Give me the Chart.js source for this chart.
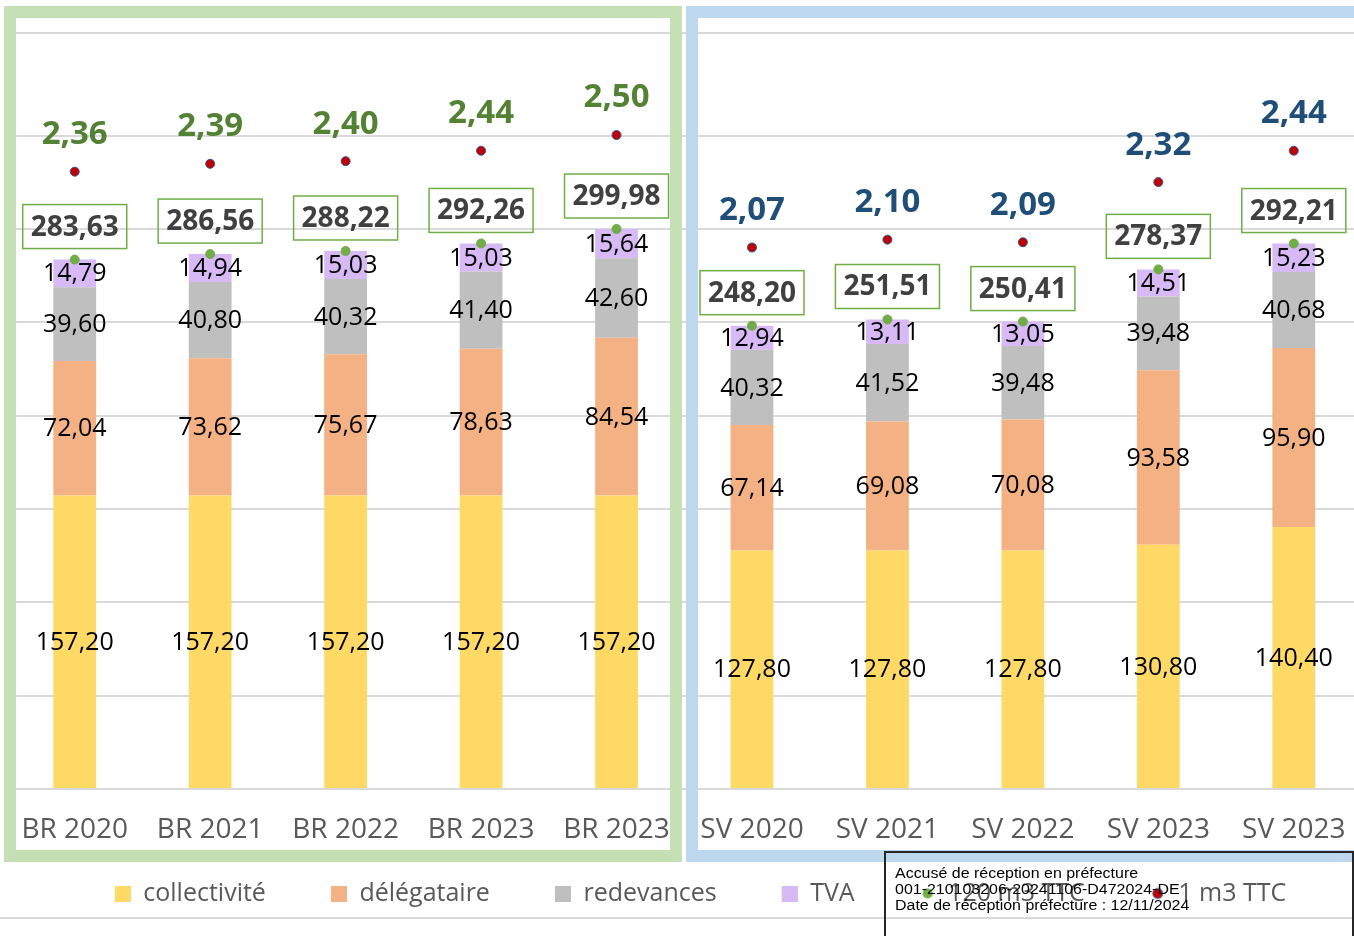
<!DOCTYPE html>
<html lang="fr">
<head>
<meta charset="utf-8">
<title>Prix de l'eau</title>
<script src="https://cdn.jsdelivr.net/npm/chart.js@4.4.1/dist/chart.umd.min.js"></script>
<style>
  html, body { margin: 0; padding: 0; overflow: hidden; background: #fff; width: 1354px; height: 936px; }
  #wrap { position: absolute; left: -28px; top: 0; width: 1395px; height: 936px; }
  .frame { position: absolute; box-sizing: border-box; border: 12px solid; pointer-events: none; }
  #frameBR { left: 4px; top: 6px; width: 678px; height: 856px; border-color: #c5e0b4; }
  #frameSV { left: 686px; top: 6px; width: 680px; height: 856px; border-color: #bdd7ee; }
  #rule { position: absolute; left: 0; top: 917px; width: 1354px; height: 2px; background: #d9d9d9; }
  #stamp { position: absolute; left: 884px; top: 851px; width: 470px; height: 120px; box-sizing: border-box;
           border: 2px solid #262626; padding: 12px 0 0 9px; color: #000; }
  #stamp div { font: 14px "Liberation Sans", Arial, sans-serif; line-height: 16px; white-space: nowrap;
               transform: scaleX(1.14); transform-origin: 0 0; }
</style>
</head>
<body>
<div id="wrap"><canvas id="chart"></canvas></div>
<div id="rule"></div>
<div class="frame" id="frameBR"></div>
<div class="frame" id="frameSV"></div>
<div id="stamp"><div>Accusé de réception en préfecture<br>001-210103206-20241106-D472024-DE<br>Date de réception préfecture : 12/11/2024</div></div>

<script>
// prix de l'eau : détail pour 120 m3 et prix au m3
const categories = ['BR 2020', 'BR 2021', 'BR 2022', 'BR 2023', 'BR 2023',
                    'SV 2020', 'SV 2021', 'SV 2022', 'SV 2023', 'SV 2023'];
const collectivite = [157.20, 157.20, 157.20, 157.20, 157.20, 127.80, 127.80, 127.80, 130.80, 140.40];
const delegataire = [72.04, 73.62, 75.67, 78.63, 84.54, 67.14, 69.08, 70.08, 93.58, 95.90];
const redevances = [39.60, 40.80, 40.32, 41.40, 42.60, 40.32, 41.52, 39.48, 39.48, 40.68];
const tva = [14.79, 14.94, 15.03, 15.03, 15.64, 12.94, 13.11, 13.05, 14.51, 15.23];
const total120 = [283.63, 286.56, 288.22, 292.26, 299.98, 248.20, 251.51, 250.41, 278.37, 292.21];
const prixM3 = [2.36, 2.39, 2.40, 2.44, 2.50, 2.07, 2.10, 2.09, 2.32, 2.44];
const gridValues = [0, 50, 100, 150, 200, 250, 300, 350, 405];

const FONT = 'Open Sans';
const fr = v => v.toFixed(2).replace('.', ',');

// legend swatch, drawn at the right of a wide transparent strip (gives the item spacing)
function swatch(color, round, border) {
    const c = document.createElement('canvas');
    c.width = 71;
    c.height = 16;
    const g = c.getContext('2d');
    g.fillStyle = color;
    if (round) {
        g.beginPath();
        g.arc(63, 8, 5, 0, Math.PI * 2);
        g.fill();
        if (border) {
            g.strokeStyle = border;
            g.lineWidth = 1;
            g.stroke();
        }
    } else {
        g.fillRect(55, 0, 16, 16);
    }
    return c;
}

const swatches = [
    swatch('#ffd966'), swatch('#f4b183'), swatch('#bfbfbf'), swatch('#d7b9f5'),
    swatch('#70ad47', true), swatch('#c00000', true, '#2f5597')
];

const valueLabels = {
    id: 'valueLabels',
    afterDatasetsDraw(chart) {
        const ctx = chart.ctx;
        ctx.save();
        ctx.textAlign = 'center';
        ctx.textBaseline = 'middle';

        // values inside the stacked segments
        ctx.font = `25px "${FONT}"`;
        ctx.fillStyle = '#000';
        for (let d = 0; d < 4; d++) {
            chart.getDatasetMeta(d).data.forEach((bar, i) => {
                ctx.fillText(fr(chart.data.datasets[d].data[i]), bar.x, (bar.y + bar.base) / 2 + 1);
            });
        }

        // totals for 120 m3, boxed
        ctx.font = `bold 28px "${FONT}"`;
        chart.getDatasetMeta(4).data.forEach((pt, i) => {
            const txt = fr(total120[i]);
            const w = ctx.measureText(txt).width + 16;
            const cy = pt.y - 33;
            ctx.strokeStyle = '#70ad47';
            ctx.lineWidth = 1.5;
            ctx.strokeRect(pt.x - w / 2, cy - 22, w, 44);
            ctx.fillStyle = '#404040';
            ctx.fillText(txt, pt.x, cy + 1);
        });

        // price per m3
        ctx.font = `bold 33px "${FONT}"`;
        chart.getDatasetMeta(5).data.forEach((pt, i) => {
            ctx.fillStyle = i < 5 ? '#548235' : '#1f4e79';
            ctx.fillText(fr(prixM3[i]), pt.x, pt.y - 37);
        });
        ctx.restore();
    }
};

new Chart(document.getElementById('chart'), {
    type: 'bar',
    data: {
        labels: categories,
        datasets: [
            { label: 'collectivité', data: collectivite, backgroundColor: '#ffd966', order: 1 },
            { label: 'délégataire', data: delegataire, backgroundColor: '#f4b183', order: 1 },
            { label: 'redevances', data: redevances, backgroundColor: '#bfbfbf', order: 1 },
            { label: 'TVA', data: tva, backgroundColor: '#d7b9f5', order: 1 },
            {
                type: 'line', label: '120 m3 TTC', data: total120, stack: 'total', showLine: false,
                pointRadius: 4.5, pointBackgroundColor: '#70ad47', pointBorderColor: '#70ad47', order: 0
            },
            {
                type: 'line', label: '1 m3 TTC', data: prixM3, yAxisID: 'y1', showLine: false,
                pointRadius: 4.5, pointBackgroundColor: '#c00000', pointBorderColor: '#2f5597',
                pointBorderWidth: 1, order: 0
            }
        ]
    },
    options: {
        responsive: true,
        maintainAspectRatio: false,
        animation: false,
        layout: { padding: { left: 7, top: 33, right: 0, bottom: 20 } },
        datasets: { bar: { barPercentage: 0.316, categoryPercentage: 1 } },
        scales: {
            x: {
                stacked: true,
                grid: { display: false, drawTicks: false },
                border: { display: false },
                ticks: {
                    color: '#595959', padding: 6, maxRotation: 0, autoSkip: false,
                    font: { family: FONT, size: 28, lineHeight: '70px' }
                }
            },
            y: {
                stacked: true,
                min: 0,
                max: 405,
                afterBuildTicks: axis => { axis.ticks = gridValues.map(v => ({ value: v })); },
                afterFit: axis => { axis.width = 28; },
                ticks: { display: false },
                grid: { color: '#d9d9d9', lineWidth: 2, drawTicks: false },
                border: { display: false }
            },
            y1: { display: false, min: 0, max: 2.89 }
        },
        plugins: {
            tooltip: { enabled: false },
            legend: {
                position: 'bottom',
                labels: {
                    usePointStyle: true,
                    pointStyleWidth: 71,
                    boxHeight: 16,
                    padding: 10,
                    color: '#595959',
                    font: { family: FONT, size: 25 },
                    generateLabels: chart => chart.data.datasets.map((ds, i) => ({
                        text: ds.label,
                        pointStyle: swatches[i],
                        datasetIndex: i,
                        hidden: false,
                        lineWidth: 0,
                        fillStyle: 'rgba(0,0,0,0)',
                        strokeStyle: 'rgba(0,0,0,0)',
                        fontColor: '#595959'
                    }))
                }
            }
        }
    },
    plugins: [valueLabels]
});
</script>
</body>
</html>
